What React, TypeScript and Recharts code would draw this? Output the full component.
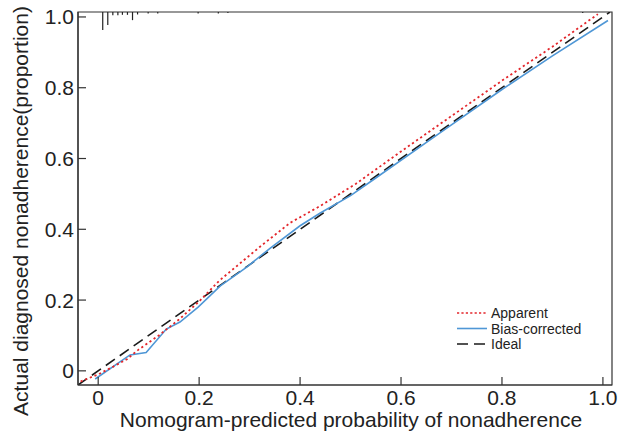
import { LineChart, Line, XAxis, YAxis, ReferenceArea, ReferenceLine } from 'recharts';

const xTicks = [0, 0.2, 0.4, 0.6, 0.8, 1.0];
const yTicks = [0, 0.2, 0.4, 0.6, 0.8, 1.0];

const apparentX = [-0.035, 0.0, 0.03, 0.057, 0.08, 0.12, 0.16, 0.2, 0.24, 0.32, 0.38, 0.44, 0.51, 0.6, 0.7, 0.8, 0.9, 0.99];
const apparentY = [-0.03, -0.01, 0.012, 0.033, 0.06, 0.1, 0.145, 0.196, 0.255, 0.35, 0.418, 0.466, 0.528, 0.62, 0.72, 0.82, 0.916, 1.008];

const biasX = [-0.006, 0.063, 0.095, 0.135, 0.162, 0.198, 0.242, 0.295, 0.341, 0.4, 0.44, 0.5, 0.545, 0.68, 0.8, 0.9, 1.01];
const biasY = [-0.023, 0.045, 0.052, 0.118, 0.138, 0.18, 0.24, 0.294, 0.347, 0.41, 0.446, 0.495, 0.54, 0.675, 0.795, 0.89, 0.99];

const idealX = [-0.04, 1.014];
const idealY = [-0.04, 1.014];

// rug of predicted values along the top border
const rugX = [0.009, 0.019, 0.029, 0.039, 0.048, 0.058, 0.068, 0.078, 0.099, 0.118, 0.198, 0.238, 0.257, 0.96];
const rugLen = [0.051, 0.037, 0.009, 0.009, 0.008, 0.008, 0.023, 0.007, 0.004, 0.004, 0.004, 0.004, 0.003, 0.003];

const legendItems = [
    { name: 'Apparent', color: '#e3262b', dash: '2.2 2.2' },
    { name: 'Bias-corrected', color: '#4f97d6', dash: '' },
    { name: 'Ideal', color: '#1a1a1a', dash: '11 6' },
];

const X_MIN = -0.04;
const X_MAX = 1.018;
const Y_MIN = -0.04;
const Y_MAX = 1.014;

const toPoints = (xs: number[], ys: number[]) => xs.map((x, i) => ({ x, y: ys[i] }));

const apparentData = toPoints(apparentX, apparentY);
const biasData = toPoints(biasX, biasY);
const idealData = toPoints(idealX, idealY);

const fmt = (v: number) => (v === 0 ? '0' : v.toFixed(1));
const FONT = '"Liberation Sans", Arial, Helvetica, sans-serif';
const AXIS = '#333';

function XTick(props: any) {
    const { x, y, payload } = props;
    return (
        <g>
            <line x1={x} x2={x} y1={y} y2={y - 8} stroke={AXIS} strokeWidth={1.2} />
            <text x={x} y={y + 19.5} textAnchor="middle" fontSize={21} fill="#222" fontFamily={FONT}>
                {fmt(payload.value)}
            </text>
        </g>
    );
}

function YTick(props: any) {
    const { x, y, payload } = props;
    return (
        <g>
            <line x1={x} x2={x + 8} y1={y} y2={y} stroke={AXIS} strokeWidth={1.2} />
            <text x={x - 4} y={y + 7.5} textAnchor="end" fontSize={21} fill="#222" fontFamily={FONT}>
                {fmt(payload.value)}
            </text>
        </g>
    );
}

export default function App() {
    return (
        <div style={{ position: 'relative', width: 619, height: 437, fontFamily: FONT, background: '#fff' }}>
            <style>{'html, body { margin: 0; padding: 0; overflow: hidden; }'}</style>
            <LineChart width={619} height={437} margin={{ top: 12, right: 7, bottom: 0, left: 0 }} style={{ overflow: 'visible' }}>
                <XAxis
                    type="number"
                    dataKey="x"
                    domain={[X_MIN, X_MAX]}
                    ticks={xTicks}
                    tick={<XTick />}
                    tickLine={false}
                    tickSize={0}
                    tickMargin={0}
                    height={52}
                    stroke={AXIS}
                    strokeWidth={1.2}
                    allowDataOverflow
                    label={{
                        content: () => (
                            <text x={351} y={427} textAnchor="middle" fontSize={21} fill="#222" fontFamily={FONT}>
                                Nomogram-predicted probability of nonadherence
                            </text>
                        ),
                    }}
                />
                <YAxis
                    type="number"
                    dataKey="y"
                    domain={[Y_MIN, Y_MAX]}
                    ticks={yTicks}
                    tick={<YTick />}
                    tickLine={false}
                    tickSize={0}
                    tickMargin={0}
                    width={78}
                    stroke={AXIS}
                    strokeWidth={1.2}
                    allowDataOverflow
                    label={{
                        content: () => (
                            <text
                                transform="translate(28,211) rotate(-90)"
                                textAnchor="middle"
                                fontSize={21}
                                fill="#222"
                                fontFamily={FONT}
                            >
                                Actual diagnosed nonadherence(proportion)
                            </text>
                        ),
                    }}
                />
                <ReferenceArea x1={X_MIN} x2={X_MAX} y1={Y_MIN} y2={Y_MAX} fill="none" stroke={AXIS} strokeWidth={1.2} />
                {rugX.map((x, i) => (
                    <ReferenceLine
                        key={i}
                        segment={[{ x, y: Y_MAX }, { x, y: Y_MAX - rugLen[i] }]}
                        stroke="#222"
                        strokeWidth={1.2}
                    />
                ))}
                <Line data={idealData} dataKey="y" type="linear" stroke="#1a1a1a" strokeWidth={1.6} strokeDasharray="11 6" dot={false} isAnimationActive={false} />
                <Line data={biasData} dataKey="y" type="linear" stroke="#4f97d6" strokeWidth={1.6} dot={false} isAnimationActive={false} />
                <Line data={apparentData} dataKey="y" type="linear" stroke="#e3262b" strokeWidth={1.8} strokeDasharray="2.2 2.8" dot={false} isAnimationActive={false} />
            </LineChart>

            {/* Legend */}
            <svg style={{ position: 'absolute', left: 450, top: 302 }} width={160} height={52}>
                {legendItems.map((item, i) => (
                    <g key={item.name} transform={`translate(0, ${11 + i * 15.5})`}>
                        <line x1={7} x2={37} y1={0} y2={0} stroke={item.color} strokeWidth={1.6} strokeDasharray={item.dash || undefined} />
                        <text x={41} y={5} fontSize={14} fill="#222" fontFamily={FONT}>
                            {item.name}
                        </text>
                    </g>
                ))}
            </svg>
        </div>
    );
}
